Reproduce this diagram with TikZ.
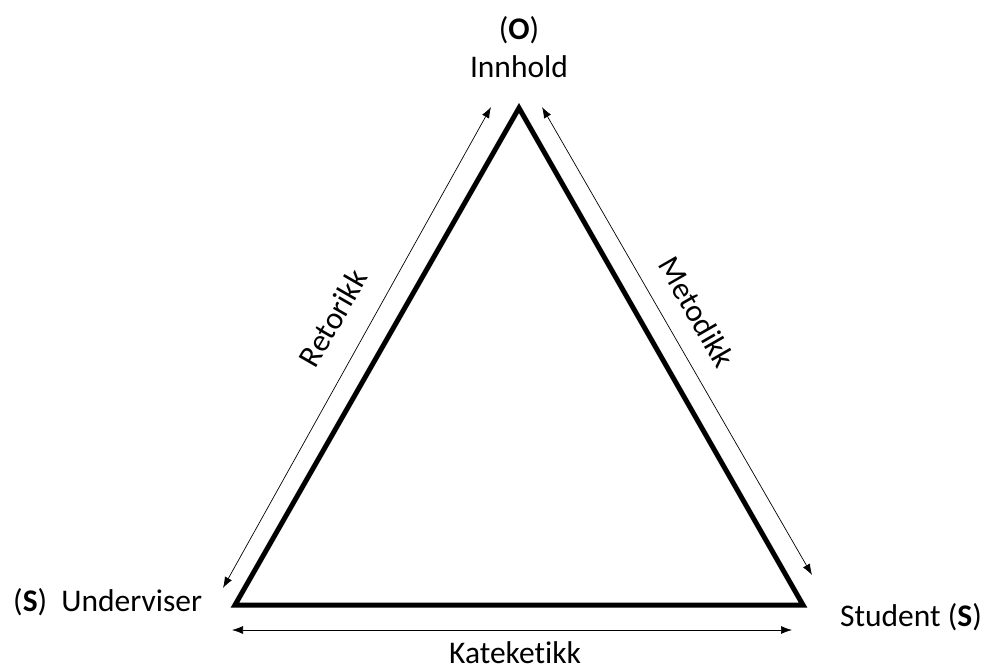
\documentclass[tikz,border=0pt]{standalone}
\usepackage{fontspec}
\setmainfont[Ligatures=NoCommon]{Carlito}
\usetikzlibrary{arrows.meta}
\begin{document}
\begin{tikzpicture}[x=1pt,y=-1pt,
		side/.style={line width=5pt},
		pil/.style={{Latex[length=11pt,width=8pt]}-{Latex[length=11pt,width=8pt]}, line width=0.7pt},
		lbl/.style={font=\fontsize{31.5}{38}\selectfont, inner sep=0pt}]
				\useasboundingbox (0,0) rectangle (986,670);

				\coordinate (O) at (519,108);
				\coordinate (U) at (235,605);
				\coordinate (S) at (803,605);

				\coordinate (r1) at (223,588);
				\coordinate (r2) at (491,107);
				\coordinate (m1) at (542,107);
				\coordinate (m2) at (812,575);
				\coordinate (k1) at (232,630);
				\coordinate (k2) at (792,630);

				\draw[side] (O) -- (U) -- (S) -- cycle;

				\draw[pil] (r1) -- (r2);
				\draw[pil] (m1) -- (m2);
				\draw[pil] (k1) -- (k2);

				\node[lbl] (oo) at (519,30) {(\textbf{O})};
				\node[lbl] (innhold) at (519,67) {Innhold};
				\node[lbl, anchor=west] (underviser) at (13,602) {(\textbf{S})\ \ Underviser};
				\node[lbl, anchor=east] (student) at (982,617) {Student (\textbf{S})};
				\node[lbl] (kateketikk) at (515,653) {Kateketikk};
				\node[lbl, rotate=60] (retorikk) at (333,318) {Retorikk};
				\node[lbl, rotate=-60] (metodikk) at (697,312) {Metodikk};
			\end{tikzpicture}
\end{document}
